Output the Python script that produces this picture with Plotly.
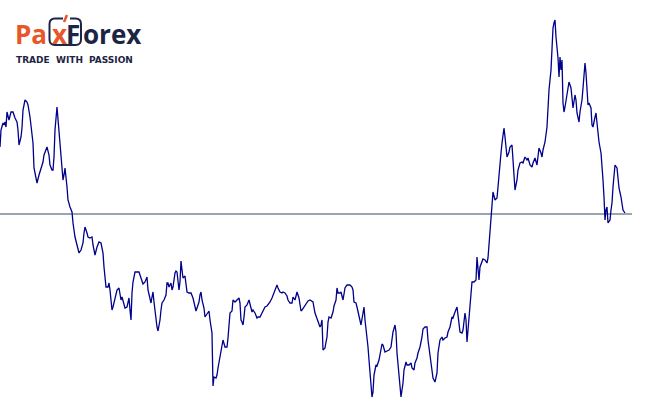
import plotly.graph_objects as go

# bar index (time) and price level (points)
bars = [0,1,3,4,5,6,7,8,9,11,13,15,17,18,19,21,22,23,25,27,28,30,32,33,34,36,37,39,41,43,44,46,47,49,50,52,53,54,55,57,58,59,61,62,63,64,65,67,68,70,72,73,75,77,79,81,83,84,85,87,88,90,92,93,95,97,99,101,103,104,105,106,108,109,110,112,113,114,116,117,119,120,121,122,123,125,127,128,129,130,131,132,133,135,137,139,141,142,143,145,147,148,150,151,152,153,154,155,157,158,159,160,161,162,164,166,167,168,169,171,172,173,175,176,177,179,180,181,182,183,185,186,187,189,191,193,194,196,197,199,200,201,202,204,205,207,209,210,212,213,214,216,217,218,220,222,223,225,227,228,229,230,232,233,235,237,239,240,241,242,243,244,245,247,248,249,251,252,253,255,257,258,260,262,263,265,267,268,270,272,273,275,277,278,280,282,283,285,287,288,290,292,293,295,296,297,299,300,301,302,304,306,308,310,312,313,315,317,318,320,321,322,323,325,326,327,328,329,331,333,334,336,337,338,340,341,343,344,345,347,350,352,353,354,356,357,359,360,361,363,364,365,367,368,369,371,372,373,374,376,377,379,381,382,383,385,387,389,391,392,393,395,396,397,399,401,403,404,406,407,409,411,412,414,415,417,418,420,422,423,425,427,428,430,432,433,435,437,438,440,442,443,445,447,448,450,452,453,455,457,458,459,460,462,463,465,466,467,469,470,471,472,474,476,477,478,479,480,482,483,485,487,488,489,490,491,492,493,495,497,498,499,501,502,503,504,505,506,507,509,510,512,513,514,515,517,518,520,522,523,525,527,528,530,532,533,535,537,538,539,541,542,543,545,547,548,549,551,552,553,554,555,556,557,558,559,560,561,562,563,564,565,567,568,569,571,572,573,575,576,577,579,580,582,583,585,586,587,588,589,591,592,593,595,596,597,598,599,601,602,603,604,605,606,607,608,610,611,612,613,614,615,617,618,619,621,622,623,625]

prices = [268,285,292,290,293,288,303,300,295,303,303,297,293,285,270,278,287,305,315,313,310,298,283,272,247,235,232,240,247,253,260,265,268,260,250,245,245,258,285,308,295,278,258,245,235,240,247,228,215,208,203,192,178,170,162,165,172,182,188,182,178,177,178,170,160,168,173,172,162,148,135,128,128,132,125,105,108,113,120,125,127,122,115,118,115,107,108,113,117,105,95,122,133,143,143,143,137,133,131,133,138,125,115,112,118,123,113,103,88,84,88,95,105,112,115,120,132,132,128,132,125,128,142,144,143,125,133,154,145,137,139,133,123,122,122,117,112,104,107,113,120,123,115,107,98,101,104,95,82,29,38,37,40,47,58,73,75,68,68,77,93,102,104,115,113,115,117,112,95,93,90,98,108,110,113,115,107,103,105,102,97,98,98,102,105,108,109,110,113,117,120,126,130,127,123,122,123,122,119,115,112,112,118,115,120,123,117,110,104,105,108,112,114,115,114,113,102,97,93,88,90,95,65,67,73,78,93,98,97,103,109,115,127,122,122,123,115,122,127,130,130,128,125,113,112,108,100,93,90,102,108,95,80,68,55,28,18,23,40,50,49,55,65,71,70,63,64,65,68,75,83,90,83,62,35,18,32,45,53,50,50,52,47,45,52,57,62,68,78,86,88,88,75,58,45,37,33,42,62,75,78,75,77,78,83,88,98,97,103,108,100,88,83,82,85,102,95,73,98,112,125,133,133,135,158,145,135,148,153,156,155,152,157,172,188,202,212,223,215,217,228,242,262,272,282,287,278,262,258,263,268,270,255,242,225,235,245,252,253,252,258,255,257,250,248,252,257,250,260,267,262,258,265,273,288,305,325,345,372,387,392,395,378,368,357,338,358,345,355,312,303,308,320,328,333,327,318,307,320,315,302,293,303,315,327,352,342,320,310,312,307,290,288,298,302,292,282,273,262,252,235,218,195,205,208,192,195,205,212,228,245,250,247,238,227,218,212,205,202]

ref_level = 201

LINE_COLOR = "#00008b"
REF_COLOR = "#778899"
ORANGE = "#e8572a"
NAVY = "#1c2544"

W, H = 647, 415

fig = go.Figure()
fig.add_trace(go.Scatter(x=bars, y=prices, mode="lines",
                         line=dict(color=LINE_COLOR, width=1.3),
                         hoverinfo="skip", showlegend=False))

fig.add_shape(type="line", xref="x", yref="y", x0=0, x1=632,
              y0=ref_level, y1=ref_level,
              line=dict(color=REF_COLOR, width=1.3), layer="below")

def px(xp):
    return xp / W

def py(yp):
    return 1 - yp / H

# logo box around "xF"
fig.add_shape(type="path", xref="paper", yref="paper",
              path=(f"M {px(63)},{py(18.5)} L {px(55)},{py(18.5)} "
                    f"Q {px(49.5)},{py(18.5)} {px(49.5)},{py(24)} "
                    f"L {px(49.5)},{py(39.5)} Q {px(49.5)},{py(45)} {px(55)},{py(45)} "
                    f"L {px(75.5)},{py(45)} Q {px(81)},{py(45)} {px(81)},{py(39.5)} "
                    f"L {px(81)},{py(24)} Q {px(81)},{py(18.5)} {px(75.5)},{py(18.5)} L {px(70)},{py(18.5)}"),
              line=dict(color=NAVY, width=2))
# orange accent stroke of the "x"
fig.add_shape(type="line", xref="paper", yref="paper",
              x0=px(64), y0=py(22), x1=px(67), y1=py(15),
              line=dict(color=ORANGE, width=2.5))

logo_font = dict(family="Open Sans, Lato, sans-serif", size=26, weight=700)
logo_parts = [("Pa", 14, ORANGE), ("x", 51, ORANGE), ("F", 65, NAVY), ("orex", 82, NAVY)]
for txt, xs, col in logo_parts:
    fig.add_annotation(x=px(xs), y=py(34), xref="paper", yref="paper", xanchor="left",
                       yanchor="middle", text=txt, showarrow=False,
                       font=dict(color=col, **logo_font), borderpad=0)

tag_font = dict(family="DejaVu Sans", size=9, color=NAVY, weight="bold")
for word, xs in [("TRADE", 15), ("WITH", 55), ("PASSION", 88)]:
    fig.add_annotation(x=px(xs), y=py(60), xref="paper", yref="paper", xanchor="left",
                       yanchor="middle", text=word, showarrow=False, font=tag_font,
                       borderpad=0)

fig.update_layout(
    width=W, height=H,
    margin=dict(l=0, r=0, t=0, b=0),
    paper_bgcolor="white", plot_bgcolor="white",
    xaxis=dict(range=[0, W], visible=False, fixedrange=True),
    yaxis=dict(range=[0, H], visible=False, fixedrange=True),
)

fig.write_html("out.html", config={"displayModeBar": False},
               post_script="document.body.style.margin='0';document.body.style.overflow='hidden';")
